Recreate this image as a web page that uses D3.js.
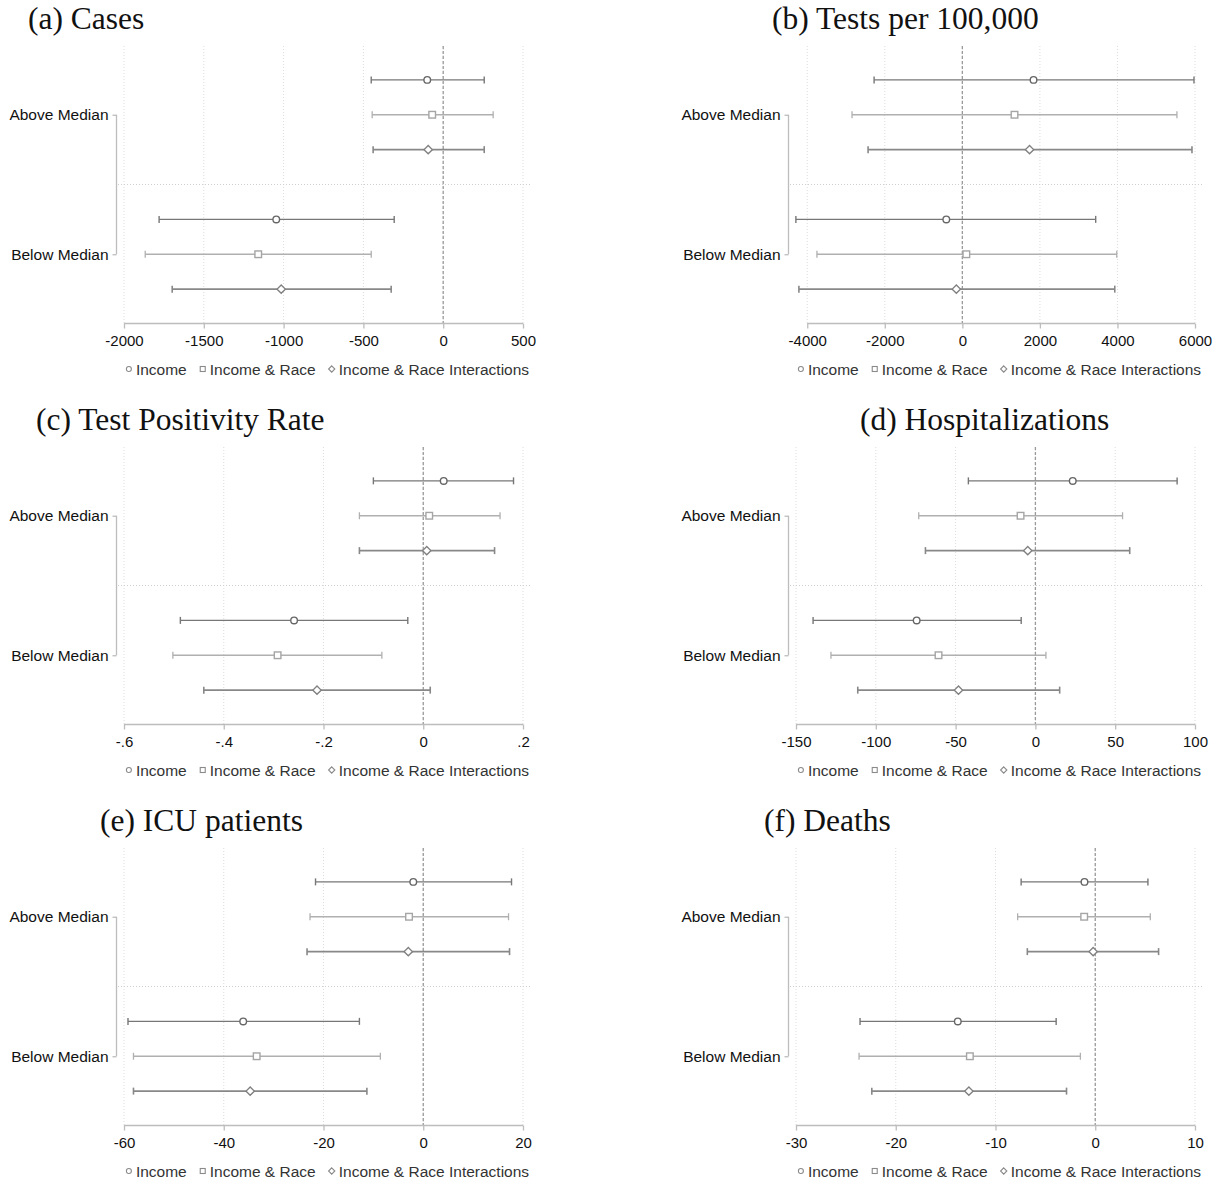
<!DOCTYPE html>
<html>
<head>
<meta charset="utf-8">
<script src="https://cdn.jsdelivr.net/npm/d3@7"></script>
<style>
  html, body { margin: 0; padding: 0; background: #fff; }
  svg { display: block; }
</style>
</head>
<body>
<svg id="chart" width="1219" height="1184"></svg>
<script>
// ---------- DATA ----------
const groups = ["Above Median", "Below Median"];
const seriesNames = ["Income", "Income & Race", "Income & Race Interactions"];
const panelTitles = ["(a) Cases", "(b) Tests per 100,000", "(c) Test Positivity Rate",
                     "(d) Hospitalizations", "(e) ICU patients", "(f) Deaths"];

// order in each array: Above(Income, Income&Race, Interactions), Below(Income, Income&Race, Interactions)
const casesEst = [-100, -69, -94, -1046, -1159, -1015];
const casesLo  = [-451, -445, -439, -1780, -1867, -1698];
const casesHi  = [257, 313, 257, -307, -451, -326];
const casesTicks = [-2000, -1500, -1000, -500, 0, 500];
const casesTickLabels = ["-2000", "-1500", "-1000", "-500", "0", "500"];

const testsEst = [1836, 1345, 1733, -414, 103, -155];
const testsLo  = [-2276, -2845, -2431, -4293, -3750, -4215];
const testsHi  = [5974, 5534, 5922, 3439, 3982, 3931];
const testsTicks = [-4000, -2000, 0, 2000, 4000, 6000];
const testsTickLabels = ["-4000", "-2000", "0", "2000", "4000", "6000"];

const posEst = [0.041, 0.012, 0.007, -0.259, -0.292, -0.213];
const posLo  = [-0.100, -0.128, -0.128, -0.487, -0.502, -0.440];
const posHi  = [0.181, 0.154, 0.143, -0.031, -0.083, 0.014];
const posTicks = [-0.6, -0.4, -0.2, 0, 0.2];
const posTickLabels = ["-.6", "-.4", "-.2", "0", ".2"];

const hospEst = [23.4, -9.3, -4.8, -74.4, -60.7, -48.2];
const hospLo  = [-42.0, -73.1, -68.9, -139.3, -128.1, -111.3];
const hospHi  = [88.8, 54.6, 59.1, -8.9, 6.6, 15.2];
const hospTicks = [-150, -100, -50, 0, 50, 100];
const hospTickLabels = ["-150", "-100", "-50", "0", "50", "100"];

const icuEst = [-2.0, -2.85, -3.0, -36.1, -33.4, -34.7];
const icuLo  = [-21.6, -22.7, -23.3, -59.2, -58.1, -58.1];
const icuHi  = [17.7, 17.1, 17.3, -12.8, -8.6, -11.3];
const icuTicks = [-60, -40, -20, 0, 20];
const icuTickLabels = ["-60", "-40", "-20", "0", "20"];

const deathsEst = [-1.08, -1.11, -0.21, -13.78, -12.57, -12.67];
const deathsLo  = [-7.43, -7.78, -6.81, -23.58, -23.68, -22.40];
const deathsHi  = [5.28, 5.52, 6.35, -3.92, -1.49, -2.88];
const deathsTicks = [-30, -20, -10, 0, 10];
const deathsTickLabels = ["-30", "-20", "-10", "0", "10"];

// x-domain of each panel (panel b extends slightly below its first tick)
const casesDomain = [-2000, 500];
const testsDomain = [-4290, 6000];
const posDomain = [-0.6, 0.2];
const hospDomain = [-150, 100];
const icuDomain = [-60, 20];
const deathsDomain = [-30, 10];

const panels = [
  {title: panelTitles[0], est: casesEst, lo: casesLo, hi: casesHi, ticks: casesTicks, labels: casesTickLabels, domain: casesDomain, col: 0, row: 0, tx: 28},
  {title: panelTitles[1], est: testsEst, lo: testsLo, hi: testsHi, ticks: testsTicks, labels: testsTickLabels, domain: testsDomain, col: 1, row: 0, tx: 100},
  {title: panelTitles[2], est: posEst, lo: posLo, hi: posHi, ticks: posTicks, labels: posTickLabels, domain: posDomain, col: 0, row: 1, tx: 36},
  {title: panelTitles[3], est: hospEst, lo: hospLo, hi: hospHi, ticks: hospTicks, labels: hospTickLabels, domain: hospDomain, col: 1, row: 1, tx: 188},
  {title: panelTitles[4], est: icuEst, lo: icuLo, hi: icuHi, ticks: icuTicks, labels: icuTickLabels, domain: icuDomain, col: 0, row: 2, tx: 100},
  {title: panelTitles[5], est: deathsEst, lo: deathsLo, hi: deathsHi, ticks: deathsTicks, labels: deathsTickLabels, domain: deathsDomain, col: 1, row: 2, tx: 92}
];

// ---------- STYLE ----------
const sans = "'Liberation Sans', Arial, Helvetica, sans-serif";
const serif = "'Liberation Serif', 'Times New Roman', serif";
const lineColors = ["#777777", "#b0b0b0", "#888888"];
const markColors = ["#666666", "#a5a5a5", "#808080"];
const lineWidths = [1.4, 1.3, 1.6];

const svg = d3.select("#chart");
const colOff = [0, 672];
const rowOff = [0, 401, 802];

// row index -> y (index 3 is the group separator)
const y = d3.scaleLinear().domain([-1, 7]).range([45, 324]);
const rowIndex = [0, 1, 2, 4, 5, 6];
const plotLeft = 124, plotRight = 523;
const axisY = 323.5;

function marker(g, type, cx, cy, color, size, sw) {
  if (type === 0) {
    g.append("circle").attr("cx", cx).attr("cy", cy).attr("r", size)
      .attr("fill", "#fff").attr("stroke", color).attr("stroke-width", sw);
  } else if (type === 1) {
    g.append("rect").attr("x", cx - size).attr("y", cy - size)
      .attr("width", size * 2).attr("height", size * 2)
      .attr("fill", "#fff").attr("stroke", color).attr("stroke-width", sw);
  } else {
    const s = size * 1.25;
    g.append("path").attr("d", `M${cx},${cy - s}L${cx + s},${cy}L${cx},${cy + s}L${cx - s},${cy}Z`)
      .attr("fill", "#fff").attr("stroke", color).attr("stroke-width", sw);
  }
}

panels.forEach(p => {
  const g = svg.append("g").attr("transform", `translate(${colOff[p.col]},${rowOff[p.row]})`);
  const x = d3.scaleLinear().domain(p.domain).range([plotLeft, plotRight]);

  // title
  g.append("text").attr("x", p.tx).attr("y", 28.5)
    .attr("font-family", serif).attr("font-size", 31.5).attr("fill", "#111")
    .text(p.title);

  // vertical dotted gridlines
  g.selectAll(".vgrid").data(p.ticks).join("line")
    .attr("x1", d => x(d)).attr("x2", d => x(d))
    .attr("y1", 46).attr("y2", axisY)
    .attr("stroke", "#dcdcdc").attr("stroke-width", 1).attr("stroke-dasharray", "1,2");

  // horizontal dotted separator
  g.append("line").attr("x1", 118).attr("x2", 530)
    .attr("y1", y(3)).attr("y2", y(3))
    .attr("stroke", "#d0d0d0").attr("stroke-width", 1).attr("stroke-dasharray", "1,2");

  // zero reference line
  g.append("line").attr("x1", x(0)).attr("x2", x(0))
    .attr("y1", 46).attr("y2", axisY)
    .attr("stroke", "#9a9a9a").attr("stroke-width", 1.3).attr("stroke-dasharray", "3,2");

  // x axis
  const xAxis = d3.axisBottom(x).tickValues(p.ticks)
    .tickFormat((d, i) => p.labels[i]).tickSize(5).tickSizeOuter(0).tickPadding(7);
  const ax = g.append("g").attr("transform", `translate(0,${axisY})`).call(xAxis);
  ax.select(".domain").attr("d", `M${x(p.ticks[0])},0H${x(p.ticks[p.ticks.length - 1])}`)
    .attr("stroke", "#bdbdbd").attr("stroke-width", 1.3);
  ax.selectAll(".tick line").attr("stroke", "#bdbdbd").attr("stroke-width", 1.3);
  ax.selectAll(".tick text").attr("font-family", sans).attr("font-size", 15).attr("fill", "#111");

  // y axis (bracket from Above to Below)
  const yCat = d3.scaleOrdinal().domain(groups).range([y(1), y(5)]);
  const yAxis = d3.axisLeft(yCat).tickSize(4).tickSizeOuter(0).tickPadding(4);
  const ay = g.append("g").attr("transform", `translate(116.5,0)`).call(yAxis);
  ay.select(".domain").attr("d", `M0,${y(1)}V${y(5)}`).attr("stroke", "#bdbdbd").attr("stroke-width", 1.3);
  ay.selectAll(".tick line").attr("stroke", "#bdbdbd").attr("stroke-width", 1.3);
  ay.selectAll(".tick text").attr("font-family", sans).attr("font-size", 15.5).attr("fill", "#111");

  // CIs and markers
  p.est.forEach((e, i) => {
    const s = i % 3;
    const cy = y(rowIndex[i]);
    const x1 = x(p.lo[i]), x2 = x(p.hi[i]);
    g.append("line").attr("x1", x1).attr("x2", x2).attr("y1", cy).attr("y2", cy)
      .attr("stroke", lineColors[s]).attr("stroke-width", lineWidths[s]);
    [x1, x2].forEach(cx => {
      g.append("line").attr("x1", cx).attr("x2", cx).attr("y1", cy - 3.5).attr("y2", cy + 3.5)
        .attr("stroke", lineColors[s]).attr("stroke-width", lineWidths[s]);
    });
    marker(g, s, x(e), cy, markColors[s], 3.3, 1.4);
  });

  // legend
  const lg = g.append("g");
  let cursor = 0;
  seriesNames.forEach((name, s) => {
    const it = lg.append("g");
    marker(it, s, cursor + 3, 369, "#8a8a8a", 2.5, 1.1);
    const t = it.append("text").attr("x", cursor + 10).attr("y", 374.5)
      .attr("font-family", sans).attr("font-size", 15.5).attr("fill", "#333").text(name);
    const w = t.node().getComputedTextLength();
    cursor += 10 + w + 13;
  });
  const total = cursor - 13;
  lg.attr("transform", `translate(${327.5 - total / 2},0)`);
});
</script>
</body>
</html>
